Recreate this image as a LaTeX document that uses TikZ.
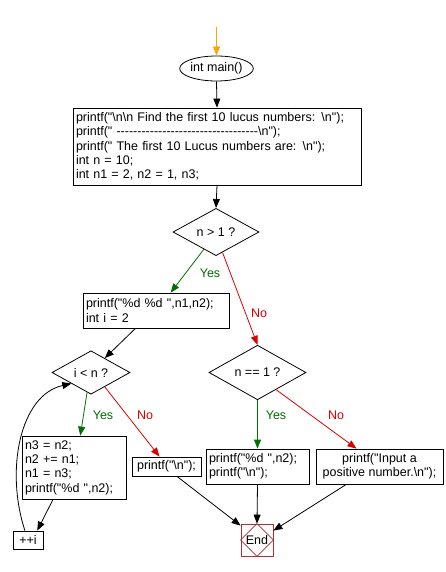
\documentclass[tikz,border=0pt]{standalone}
\usepackage{fontspec}
\newfontfamily\cf{Liberation Sans}
\usetikzlibrary{shapes.geometric,arrows.meta,calc}
\newcommand\bs{\textbackslash}
\definecolor{yesg}{RGB}{0,110,0}
\definecolor{nor}{RGB}{220,0,0}
\definecolor{endc}{RGB}{170,50,50}
\definecolor{orng}{RGB}{255,165,0}
\begin{document}
\begin{tikzpicture}[x=1pt,y=-1pt,
  every node/.style={font=\cf\fontsize{12.5}{14.3}\selectfont, inner sep=0pt},
  box/.style={draw, rectangle, line width=0.8pt, inner xsep=3pt, align=left},
  cbox/.style={draw, rectangle, line width=0.8pt, align=center},
  dec/.style={draw, diamond, line width=0.8pt},
  arr/.style={-{Triangle[length=9pt,width=7pt]}, line width=0.8pt},
  yesarr/.style={arr, yesg},
  noarr/.style={arr, nor},
  yeslbl/.style={text=yesg},
  nolbl/.style={text=nor}
]
\useasboundingbox (0,0) rectangle (445,572);

\coordinate (st) at (216.5,27);
\node[draw, ellipse, line width=0.8pt, minimum width=72pt, minimum height=25pt] (main) at (216.5,68.5) {int main()};

\node[box, text width=282pt, minimum height=77pt] (b1) at (217,146.5) {printf("\bs n\bs n Find the first 10 lucus numbers: \bs n");\\
printf(" ----------------------------------\bs n");\\
printf(" The first 10 Lucus numbers are: \bs n");\\
int n = 10;\\
int n1 = 2, n2 = 1, n3;};

\node[dec, minimum width=86pt, minimum height=40pt] (d1) at (216,232) {n > 1 ?};

\node[box, text width=140pt, minimum height=35pt] (b2) at (156,310.5) {printf("\%d \%d ",n1,n2);\\ int i = 2};

\node[dec, minimum width=78pt, minimum height=39pt] (d2) at (91,372.5) {i < n ?};
\node[dec, minimum width=97pt, minimum height=39pt] (d3) at (257.5,372.5) {n == 1 ?};

\node[box, text width=98pt, minimum height=63pt] (b3) at (74,467.5) {n3 = n2;\\ n2 += n1;\\ n1 = n3;\\ printf("\%d ",n2);};
\node[cbox, minimum width=69pt, minimum height=19pt] (b4) at (166.5,466.5) {printf("\bs n");};
\node[box, text width=97pt, minimum height=35pt] (b5) at (257.5,466.5) {printf("\%d ",n2);\\ printf("\bs n");};
\node[cbox, minimum width=127pt, minimum height=35pt] (b6) at (379.5,466.5) {printf("Input a\\ positive number.\bs n");};
\node[cbox, minimum width=30pt, minimum height=18pt] (inc) at (28,540) {++i};

\node[draw=endc, rectangle, line width=0.8pt, minimum width=32pt, minimum height=32pt] (End) at (257,540) {End};
\draw[endc, line width=0.8pt] (End.north) -- (End.east) -- (End.south) -- (End.west) -- cycle;

% connectors
\draw[arr, orng] (st) -- (main.north);
\draw[arr] (main.south) -- (b1.north);
\draw[arr] (b1.south) -- (d1.north);
\draw[yesarr] ($(d1.south)!0.28!(d1.west)$) -- ($(b2.north west)!0.6!(b2.north east)$);
\draw[noarr] ($(d1.south)!0.15!(d1.east)$) -- (d3.north);
\draw[arr] ($(b2.south west)!0.36!(b2.south east)$) -- ($(d2.north)!0.35!(d2.east)$);
\draw[yesarr] ($(d2.south)!0.1!(d2.west)$) -- ($(b3.north west)!0.56!(b3.north east)$);
\draw[noarr] ($(d2.south)!0.35!(d2.east)$) -- ($(b4.north west)!0.4!(b4.north east)$);
\draw[arr] ($(b3.south west)!0.3!(b3.south east)$) -- ($(inc.north west)!0.8!(inc.north east)$);
\draw[arr] ($(inc.north west)!0.4!(inc.north east)$) .. controls (5,470) and (20,395) .. ($(d2.south)!0.5!(d2.west)$);
\draw[yesarr] (d3.south) -- (b5.north);
\draw[noarr] ($(d3.south)!0.38!(d3.east)$) -- ($(b6.north west)!0.32!(b6.north east)$);
\draw[arr] ($(b4.south west)!0.65!(b4.south east)$) -- ($(End.north west)+(0,2)$);
\draw[arr] (b5.south) -- (End.north);
\draw[arr] ($(b6.south west)!0.24!(b6.south east)$) -- ($(End.north east)+(0,7)$);

% labels
\node[yeslbl] (l1) at (210,273) {Yes};
\node[nolbl] (l2) at (259,313) {No};
\node[yeslbl] (l3) at (103,415) {Yes};
\node[nolbl] (l4) at (145,415) {No};
\node[yeslbl] (l5) at (276,415) {Yes};
\node[nolbl] (l6) at (336,415) {No};
\end{tikzpicture}
\end{document}
